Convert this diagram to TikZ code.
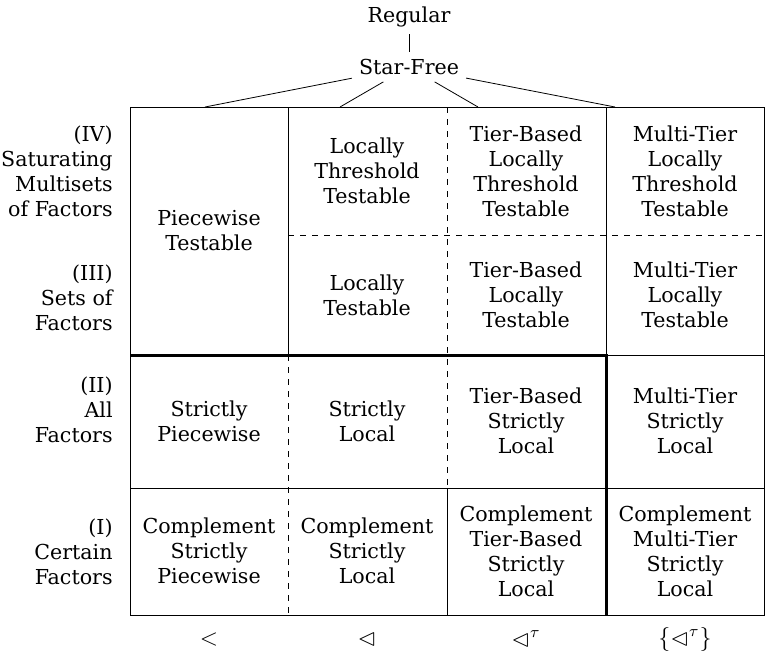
\documentclass[tikz,border=0pt]{standalone}
\usepackage{latexsym}
\usepackage{fontspec}
\setmainfont{DejaVu Serif}
\begin{document}
\begin{tikzpicture}[x=0.5pt,y=-0.5pt,
        every node/.style={font=\fontsize{10.3}{12.5}\selectfont},
        cell/.style={align=center, inner sep=2pt},
        rowlabel/.style={align=right, anchor=east, inner sep=0pt},
        collabel/.style={font=\large},
        bold line/.style={line width=1.5pt}]
        \useasboundingbox (0,0) rectangle (765,654);

        % Hierarchy above the table
        \node (reg) at (409,17) {Regular};
        \node (sf) at (409,67) {Star-Free};
        \draw (reg) -- (sf);
        \coordinate (top1) at (205,107);
        \coordinate (top2) at (340,107);
        \coordinate (top3) at (478,107);
        \coordinate (top4) at (615,107);
        \foreach \t in {top1,top2,top3,top4}
            \draw (sf) -- (\t);

        % Grid lines
        \draw (130,107) rectangle (764,615);
        \draw (288,107) -- (288,355);
        \draw[dashed] (288,355) -- (288,615);
        \draw[dashed] (447,107) -- (447,488);
        \draw (447,488) -- (447,615);
        \draw (606,107) -- (606,355);
        \draw[dashed] (288,235) -- (764,235);
        \draw (130,488) -- (764,488);
        \draw (606,355) -- (764,355);
        \draw[bold line] (130,355) -- (606,355) -- (606,615);

        % Row labels
        \node[rowlabel] (r4) at (113,171) {(IV)\\Saturating\\Multisets\\of Factors};
        \node[rowlabel] (r3) at (113,298) {(III)\\Sets of\\Factors};
        \node[rowlabel] (r2) at (113,410) {(II)\\All\\Factors};
        \node[rowlabel] (r1) at (113,552) {(I)\\Certain\\Factors};

        % Cells
        \node[cell] (pt) at (209,231) {Piecewise\\Testable};
        \node[cell] (ltt) at (367,171) {Locally\\Threshold\\Testable};
        \node[cell] (tltt) at (526,171) {Tier-Based\\Locally\\Threshold\\Testable};
        \node[cell] (mtltt) at (685,171) {Multi-Tier\\Locally\\Threshold\\Testable};
        \node[cell] (lt) at (367,295) {Locally\\Testable};
        \node[cell] (tlt) at (526,295) {Tier-Based\\Locally\\Testable};
        \node[cell] (mtlt) at (685,295) {Multi-Tier\\Locally\\Testable};
        \node[cell] (sp) at (209,421) {Strictly\\Piecewise};
        \node[cell] (sl) at (367,421) {Strictly\\Local};
        \node[cell] (tsl) at (526,421) {Tier-Based\\Strictly\\Local};
        \node[cell] (mtsl) at (685,421) {Multi-Tier\\Strictly\\Local};
        \node[cell] (csp) at (209,551) {Complement\\Strictly\\Piecewise};
        \node[cell] (csl) at (367,551) {Complement\\Strictly\\Local};
        \node[cell] (ctsl) at (526,551) {Complement\\Tier-Based\\Strictly\\Local};
        \node[cell] (cmtsl) at (685,551) {Complement\\Multi-Tier\\Strictly\\Local};

        % Column labels
        \node[collabel] (c1) at (209,639) {$<$};
        \node[collabel] (c2) at (367,639) {$\lhd$};
        \node[collabel] (c3) at (526,639) {$\lhd^\tau$};
        \node[collabel] (c4) at (685,639) {$\{\lhd^\tau\}$};
\end{tikzpicture}
\end{document}
